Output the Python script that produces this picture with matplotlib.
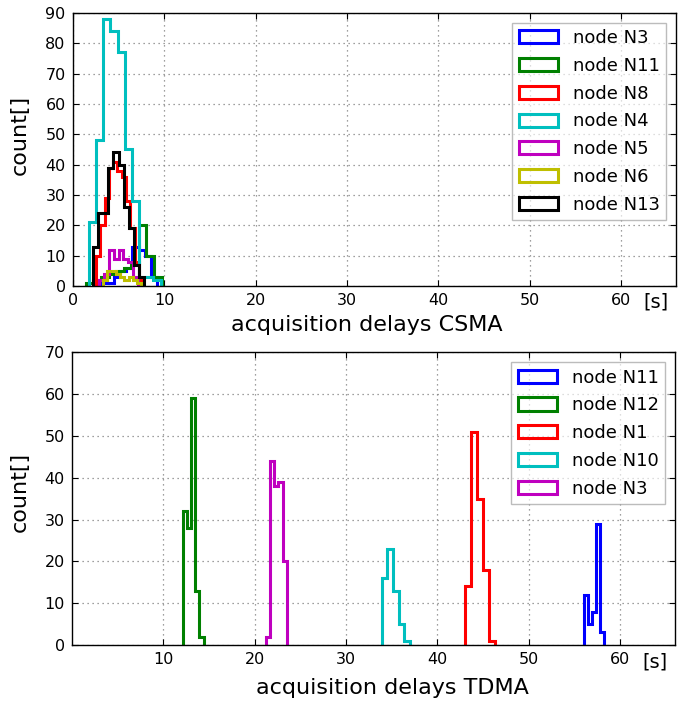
import matplotlib
matplotlib.use('Agg')
import matplotlib.pyplot as plt
import numpy as np

plt.rcParams['font.family'] = 'DejaVu Sans'

# CSMA histograms: (label, colour, first bin edge [s], bin width [s], counts)
csma_labels = ['node N3', 'node N11', 'node N8', 'node N4', 'node N5', 'node N6', 'node N13']
csma_colors = ['#0000ff', '#008000', '#ff0000', '#00bfbf', '#bf00bf', '#bfbf00', '#000000']
csma_start = [3.13, 1.45, 2.55, 1.78, 2.90, 3.35, 2.25]
csma_width = [0.68, 0.827, 0.47, 0.783, 0.53, 0.46, 0.554]
csma_counts = [
    [1, 1, 3, 5, 6, 13, 12, 10, 3],
    [1, 2, 3, 4, 5, 6, 8, 20, 10, 3],
    [10, 20, 29, 39, 41, 38, 36, 28, 19, 8, 2],
    [21, 48, 88, 84, 77, 45, 28, 3, 3, 2],
    [2, 4, 12, 9, 12, 9, 8, 3],
    [2, 5, 5, 4, 3, 2, 3, 2, 1],
    [13, 24, 24, 39, 44, 40, 26, 19, 7, 3],
]

# TDMA histograms
tdma_labels = ['node N11', 'node N12', 'node N1', 'node N10', 'node N3']
tdma_colors = ['#0000ff', '#008000', '#ff0000', '#00bfbf', '#bf00bf']
tdma_start = [56.08, 12.17, 43.0, 33.91, 21.27]
tdma_width = [0.436, 0.452, 0.654, 0.612, 0.448]
tdma_counts = [
    [12, 5, 8, 29, 3],
    [32, 28, 59, 13, 2],
    [14, 51, 35, 18, 1],
    [16, 23, 13, 5, 1],
    [2, 44, 38, 39, 20],
]


def draw_hists(ax, labels, colors, starts, widths, counts):
    for lab, col, s, w, c in zip(labels, colors, starts, widths, counts):
        c = np.array(c, dtype=float)
        edges = s + w * np.arange(len(c) + 1)
        centers = edges[:-1] + w / 2
        ax.hist(centers, bins=edges, weights=c, histtype='step',
                color=col, lw=2.2, label=lab)


def style_axes(ax, ymax, xticks):
    ax.set_xlim(0, 66)
    ax.set_ylim(0, ymax)
    ax.set_xticks(xticks)
    ax.set_yticks(np.arange(0, ymax + 1, 10))
    ax.grid(True, color='0.5', linestyle=(0, (1, 3)), linewidth=0.9)
    ax.tick_params(direction='in', top=True, right=True, labelsize=11.5,
                   length=4, pad=5)
    for sp in ax.spines.values():
        sp.set_linewidth(1.0)
    ax.text(0.967, -0.058, '[s]', transform=ax.transAxes, ha='center',
            va='center', fontsize=14)
    ax.legend(loc='upper right', fontsize=13, fancybox=False, framealpha=0.65,
              edgecolor='#999999', handlelength=2.2, handleheight=0.75,
              handletextpad=0.8, labelspacing=0.54, borderaxespad=0.55,
              borderpad=0.35)


fig = plt.figure(figsize=(6.92, 7.02), dpi=100, facecolor='white')

ax1 = fig.add_axes([0.105, 0.5926, 0.872, 0.389])
draw_hists(ax1, csma_labels, csma_colors, csma_start, csma_width, csma_counts)
style_axes(ax1, 90, np.arange(0, 61, 10))
fig.text(367 / 692, 1 - 325 / 702, 'acquisition delays CSMA',
         ha='center', va='center', fontsize=16)
fig.text(20 / 692, 1 - 135 / 702, 'count[]', rotation=90,
         ha='center', va='center', fontsize=16)

ax2 = fig.add_axes([0.1036, 0.0812, 0.872, 0.417])
draw_hists(ax2, tdma_labels, tdma_colors, tdma_start, tdma_width, tdma_counts)
style_axes(ax2, 70, np.arange(10, 61, 10))
fig.text(392 / 692, 1 - 688 / 702, 'acquisition delays TDMA',
         ha='center', va='center', fontsize=16)
fig.text(20 / 692, 1 - 492 / 702, 'count[]', rotation=90,
         ha='center', va='center', fontsize=16)

fig.savefig('out.png', dpi=100, facecolor='white')
